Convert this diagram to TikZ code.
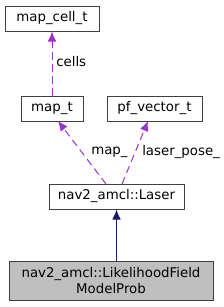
\documentclass[tikz,border=0pt]{standalone}
\usepackage{fontspec}
\setmainfont{DejaVu Sans}
\usetikzlibrary{arrows.meta}
\definecolor{orchid}{HTML}{9A32CD}
\definecolor{midblue}{HTML}{191970}
\begin{document}
\begin{tikzpicture}[x=0.75pt,y=-0.75pt,
  cls/.style={draw=black!75,line width=0.75pt,fill=white,inner sep=0pt,font=\fontsize{10pt}{11.5pt}\selectfont,align=center},
  use/.style={draw=orchid,dash pattern=on 5.5pt off 3.5pt,line width=0.75pt,-{Latex[length=7.5pt,width=6.5pt]}},
  inh/.style={draw=midblue,line width=0.75pt,-{Latex[length=7.5pt,width=6.5pt]}},
  lbl/.style={font=\fontsize{10pt}{11.5pt}\selectfont,inner sep=0pt,anchor=west}]
\useasboundingbox (0,0) rectangle (224,307);
\node[cls,minimum width=94*0.75pt,minimum height=25*0.75pt] (cell) at (52,18.5) {map\_cell\_t};
\node[cls,minimum width=62*0.75pt,minimum height=25*0.75pt] (map) at (52,108.5) {map\_t};
\node[cls,minimum width=95*0.75pt,minimum height=25*0.75pt] (pf) at (154.5,108.5) {pf\_vector\_t};
\node[cls,minimum width=135*0.75pt,minimum height=25*0.75pt] (laser) at (116.5,196.5) {nav2\_amcl::Laser};
\node[cls,fill=black!25,minimum width=204*0.75pt,minimum height=39*0.75pt] (lf) at (111,280.5) {nav2\_amcl::LikelihoodField\\ModelProb};
\coordinate (mapt) at (58,121);
\coordinate (mapf) at (106,184);
\coordinate (pft) at (148,121);
\coordinate (pff) at (122,184);
\draw[use] (map.north) -- (cell.south);
\draw[use] (mapf) -- (mapt);
\draw[use] (pff) -- (pft);
\draw[inh] (lf.north -| laser.south) -- (laser.south);
\node[lbl] (l1) at (56,62) {cells};
\node[lbl] (l2) at (91,152) {map\_};
\node[lbl] (l3) at (142,152) {laser\_pose\_};
\end{tikzpicture}
\end{document}
